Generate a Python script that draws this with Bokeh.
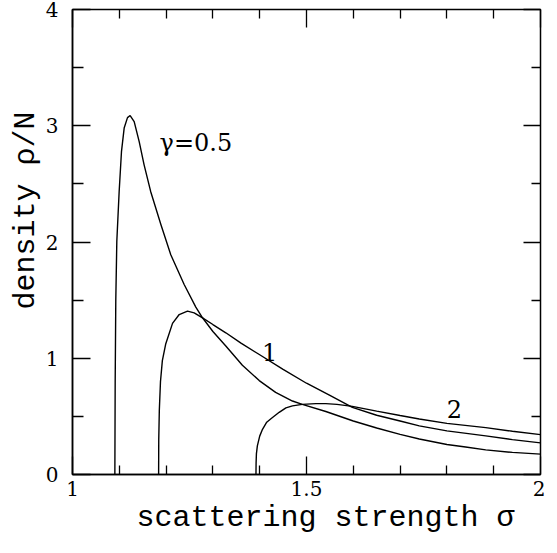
from bokeh.plotting import figure
from bokeh.models import FixedTicker, LinearAxis, Range1d, Label, CustomJSTickFormatter, Title
from bokeh.embed import file_html
from bokeh.resources import INLINE

# gamma = 0.5
x_g05 = [1.0905, 1.0912, 1.0925, 1.0947, 1.0997, 1.1047, 1.1104, 1.1175, 1.1232, 1.1318,
         1.1425, 1.153, 1.167, 1.189, 1.21, 1.2386, 1.2635, 1.2778, 1.30, 1.3276,
         1.363, 1.399, 1.434, 1.47, 1.491, 1.5413, 1.60, 1.65, 1.70, 1.741,
         1.80, 1.84, 1.883, 1.94, 2.00]
y_g05 = [0.0, 0.8, 1.5, 2.006, 2.435, 2.78, 2.98, 3.07, 3.088, 3.036,
         2.864, 2.664, 2.435, 2.149, 1.891, 1.634, 1.44, 1.348, 1.23, 1.105,
         0.94, 0.808, 0.706, 0.632, 0.603, 0.542, 0.46, 0.40, 0.345, 0.305,
         0.258, 0.236, 0.212, 0.19, 0.175]

# gamma = 1
x_g1 = [1.184, 1.1843, 1.1855, 1.188, 1.192, 1.199, 1.2137, 1.228, 1.2457, 1.26,
        1.2778, 1.30, 1.3276, 1.36, 1.40, 1.45, 1.50, 1.55, 1.598, 1.65,
        1.70, 1.741, 1.80, 1.883, 1.94, 2.00]
y_g1 = [0.0, 0.3, 0.55, 0.8, 0.98, 1.12, 1.30, 1.376, 1.405, 1.39,
        1.348, 1.29, 1.219, 1.13, 1.03, 0.905, 0.785, 0.68, 0.578, 0.51,
        0.46, 0.418, 0.375, 0.332, 0.30, 0.272]

# gamma = 2
x_g2 = [1.392, 1.3923, 1.393, 1.395, 1.40, 1.406, 1.415, 1.424, 1.4416, 1.456,
        1.47, 1.491, 1.52, 1.5413, 1.565, 1.598, 1.65, 1.70, 1.741, 1.80,
        1.883, 1.94, 2.00]
y_g2 = [0.0, 0.1, 0.18, 0.246, 0.33, 0.389, 0.45, 0.48, 0.535, 0.573,
        0.59, 0.603, 0.61, 0.61, 0.603, 0.586, 0.545, 0.507, 0.477, 0.44,
        0.403, 0.372, 0.343]

x_major = [1, 1.5, 2]
x_minor = [1.1, 1.2, 1.3, 1.4, 1.6, 1.7, 1.8, 1.9]
y_major = [0, 1, 2, 3, 4]
y_minor = [0.5, 1.5, 2.5, 3.5]

LFONT = "Liberation Mono"
SFONT = "DejaVu Serif"

p = figure(width=545, height=545, x_range=Range1d(1, 2), y_range=Range1d(0, 4),
           output_backend="svg", toolbar_location=None,
           min_border_left=72, min_border_right=5, min_border_top=9, min_border_bottom=71)
p.grid.visible = False
p.background_fill_color = "white"
p.border_fill_color = "white"
p.outline_line_color = "black"
p.outline_line_width = 1.5


def style(ax, ticker, major_len, minor_len):
    ax.ticker = ticker
    ax.major_tick_in = major_len
    ax.major_tick_out = 0
    ax.minor_tick_in = minor_len
    ax.minor_tick_out = 0
    ax.major_tick_line_color = "black"
    ax.minor_tick_line_color = "black"
    ax.major_tick_line_width = 1.3
    ax.minor_tick_line_width = 1.3
    ax.axis_line_color = "black"
    ax.axis_line_width = 1.5


def blank():
    return CustomJSTickFormatter(code="return ''")


def spacer(ticks, gap):
    s = LinearAxis(formatter=blank(), ticker=FixedTicker(ticks=ticks))
    s.major_tick_in = 0
    s.major_tick_out = 0
    s.minor_tick_in = 0
    s.minor_tick_out = 0
    s.axis_line_color = None
    s.major_tick_line_color = None
    s.minor_tick_line_color = None
    s.major_label_standoff = gap
    return s


xa = p.xaxis[0]
style(xa, FixedTicker(ticks=x_major, minor_ticks=x_minor), 18, 9)
xa.major_label_text_font = SFONT
xa.major_label_text_font_size = "20px"
xa.major_label_text_color = "black"
xa.major_label_standoff = 6

ya = p.yaxis[0]
style(ya, FixedTicker(ticks=y_major, minor_ticks=y_minor), 18, 11)
ya.major_label_text_font = SFONT
ya.major_label_text_font_size = "20px"
ya.major_label_text_color = "black"
ya.major_label_standoff = 14
ya.major_label_orientation = "horizontal"

# gap between the y tick labels and the y title
p.add_layout(spacer(y_major, 15), "left")

top = LinearAxis(formatter=blank())
style(top, FixedTicker(ticks=x_major, minor_ticks=x_minor), 18, 9)
top.major_label_standoff = 0
top.axis_line_color = None
p.add_layout(top, "above")
p.add_layout(spacer(x_major, 4), "above")

right = LinearAxis(formatter=blank())
style(right, FixedTicker(ticks=y_major, minor_ticks=y_minor), 17, 9)
right.major_label_standoff = 0
right.axis_line_color = None
p.add_layout(right, "right")

# gap between the x tick labels and the x title
p.add_layout(spacer(x_major, 10), "below")

for xs, ys in ((x_g05, y_g05), (x_g1, y_g1), (x_g2, y_g2)):
    p.line(xs, ys, line_color="black", line_width=1.4)

p.add_layout(Label(x=1.186, y=2.85, text="γ=0.5", text_baseline="middle",
                   text_font=SFONT, text_font_size="24px", text_color="black"))
p.add_layout(Label(x=1.421, y=1.056, text="1", text_baseline="middle", text_align="center",
                   text_font=SFONT, text_font_size="24px", text_color="black"))
p.add_layout(Label(x=1.816, y=0.567, text="2", text_baseline="middle", text_align="center",
                   text_font=SFONT, text_font_size="24px", text_color="black"))

# axis titles
p.add_layout(Title(text="scattering strength σ", align="left", offset=64, standoff=0,
                   text_font=LFONT, text_font_size="30px", text_font_style="normal",
                   text_color="black"), "below")
p.add_layout(Title(text="density ρ/N", align="left", offset=165, standoff=0,
                   text_font=LFONT, text_font_size="30px", text_font_style="normal",
                   text_color="black"), "left")

open("out.html", "w").write(file_html(p, INLINE))
